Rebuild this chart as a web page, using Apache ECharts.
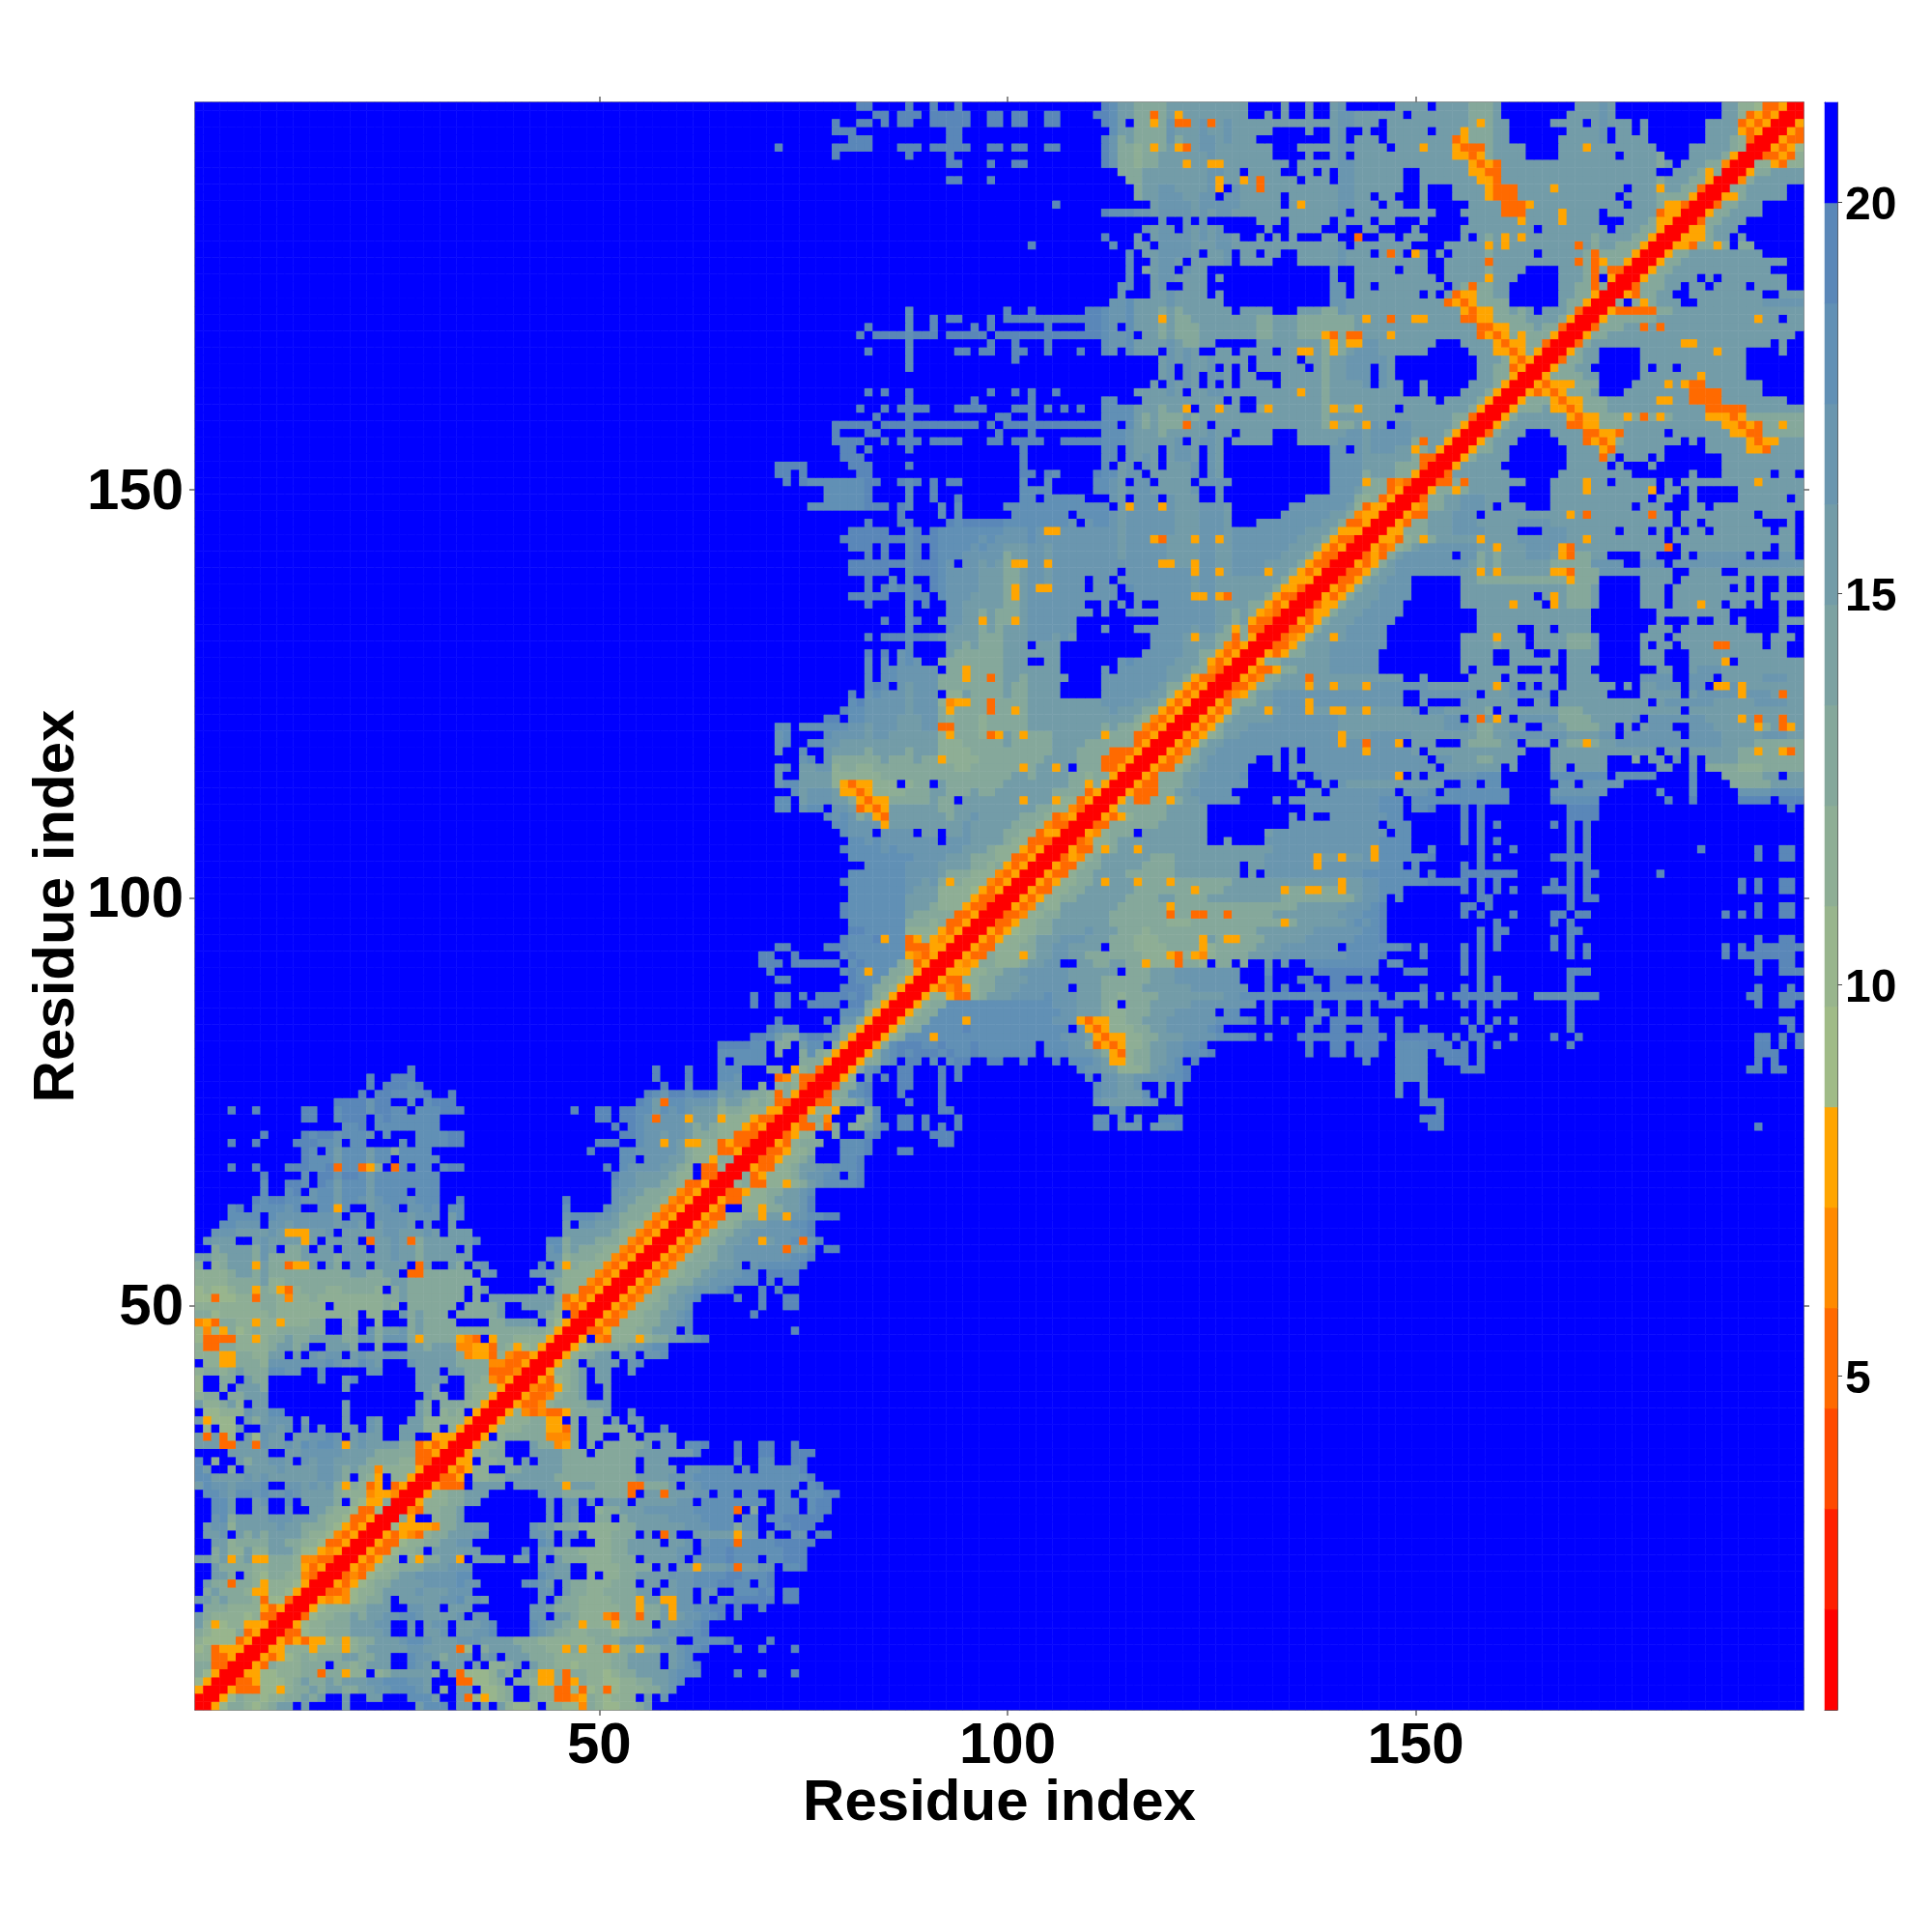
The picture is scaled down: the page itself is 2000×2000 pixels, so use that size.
<!DOCTYPE html>
<html><head><meta charset="utf-8">
<style>html,body{margin:0;padding:0;background:#fff}#c{width:2000px;height:2000px}</style>
<script src="https://cdn.jsdelivr.net/npm/echarts@6/dist/echarts.min.js"></script>
</head><body><div id="c"></div>
<script>
// Half matrix (row i = 1..197, cells j >= i, mirrored across the diagonal).
// Chars: 0-5 warm levels, 6-9,a-d sage-to-steel levels, '.' top (blue) level. First chunk ends at the next multiple of ten,
// each later chunk holds ten columns; '-' is ten blue cells; anything omitted is blue.
const halfRows = [
"0057998789 aa.a....a. .......acc c.aa.a.a87 78.8877498 77889a",
"005798878 899a9a..a. .aa...ccca ..a375789. .988334598 7888.a.b",
"00533377 5899a9aa99 aabbcccba. 8.aa.7789. .988337378 3788899ab",
"0033577 789a99a9aa abbcccbba. ..337789.9 9855935988 778899aabc",
"005577 8889939958 8.89aaaaa9 .a37778a9. 9955939988 7899aaaabc cc....d..d ...d",
"00539 888999.998 9aaa..cba. aaa.a.889a .a99887888 899aaaa.ab cd",
"0053 57898999aa 99aa..cbba 9aaa.ab.aa a999888888 899aaaa.ab c",
"005 5888588858 9aaaaabbaa aa37.9aaaa 9998859588 3599599aab ccd...d..d ...d",
"00 5353557858 99aaabccba aabbbaaaa9 9988888889 99aaabbba. .ccccd.... d",
"0 033788999a aaab..b.aa b.aabbc... .cba998899 988999aabb ccd",
"005788999a aabb..b.ab b.aaabc... .cbaa99588 858999.aab bcd",
"00378899a 9aabbccbaa aab.bb.... .bb.aa9888 4399399a5a bbccd.d",
"00578889 9aaa..bbaa .aaa...... .bba999888 8899599a5b bccdd.d..d",
"0054547 899a.aaaaa bbcaba.... ..b.a99888 89995aa55b b.b.ccdddd d.dd",
"003347 889aaaabaa abbb...... ..bb.a9988 9999aa.aab b.bb..cccd c.dd",
"00535 7899aaaabb bbcbb..... ccba.a9988 8999.aa.ab bcccddcc.c d",
"0034 37889aabbb bbcc...... ..cbaa..8. 8899aaaabb bccccddccc d",
"005 34788999aa abbb...... ..bbaa..88 889999.a.a a5aaab3aab b.ccd",
"00 53578.8599 aa5.aaaa.a a.a.a99988 8999.aaaab .ccccdccc. ccddd",
"0 05337889.a aaaaa..... c.aa999888 899aaaaaab b.cccdcccc ccddd",
"0053378899 aabb...... ..cb.b...8 899aaaa.aa b.bccc3ccc cddddd",
"005354389 9aaabb.... .bba.bb.88 8999.a.3a. .aaaaa5aa. b..bb.dd",
"00755554 99aaaa.... .baa999888 8899aaaaaa bbbccc9cc. .ccddd",
"0095..8 99a....... ...b.ba..9 9.9aaaaabb bbcccc.cc. ccddddd",
"004388 99a....... ...b.ba..8 99aaabbbbb bccccc3.9. .ccc.cdd",
"00588 899aa..... ...b.bb.b. aaa.aaaaab b.cccccccc .ccc.cdd",
"0058 899aaa.... ..baa99999 9993.aa3aa abb.cc.cc. .cc.cccdd",
"005 333.aaaa.a aaaaa5aaa9 99933999a. bbcccccccc cccc.cd",
"00 335.8899aa aaaa999999 9999aaaabb bccccccccc cccccd",
"0 053588..99 aaaaa99999 9999.aaaa. bbcccc.c.c ccccd",
"0055.8899. a.aaa99999 9999.aaa.. ......c..c c..dd",
"0058899.. .aaaa999.9 9999aaaaaa ac....d..d d..ddd",
"005889.. .a99459.9. 99999a.aa. ccd...d..d d..d",
"005.899 9994449.99 ..99.aaaa",
"005888 9995539.99 999.a..c",
"00588 89955.9.99 .a.ab",
"0058 4343359999 a..b",
"005 33489999aa a",
"00 5334899a.. a",
"0 0433589a.. a",
"0053789a.a a",
"005889a.a a..b",
"00589.aa aa.bc",
"005899a a.aa.bbc",
"005788 999aabcc",
"005.4 38885899aa bcd",
"0033 588899aaa. c......... ...d",
"005 3388899aab c",
"00 5348899aab c.......d",
"0 05348899aa b........d ..dd",
"00534889aa bc....d..d ..dd",
"00534899a abbbcd...d .d",
"00534889 9aabbbccc. d.dd",
"0053488 99aabbbcc. dddd",
"005348 999aaab.bc ccccd",
"00534 8999aabbbb bbbccd",
"0053 4899aabbbb bb3aac.dd",
"005 34899aabb5 abbc3bd",
"00 534899aabb bbbbcd",
"0 0534889aaa bbbccd",
"0053388995 aa5bbccdd",
"0053..885 99aabd",
"00533888 9aaabd",
"0033588 99aabc",
"008933 88589abccc cd",
"00935 8889abbcc. cd",
"0053 3889aabbcc cd",
"003 35889a...c cd",
"00 335889...c ccd...dd",
"0 0538999..c ccd....... .dd",
"003588..9. ..cd...... ddd",
"00533839. 99acd.dd.d .d.d...... - cc.bbb.bbb c......... - - .dd....... - - - .d",
"003994.. .99c..dd.d ...d...... - cc.c.c..cc c......... - - ddd",
"005885. ..9c...... .dd....... - ..cc...... - - - ..d",
"003389 9ac....d.. .d........ - baaaaabc.. c......... - - ddd",
"00399 ccd...d... .d........ - cbbaaac.c. c......... - .......c.. c",
"0039 9cd...dd.. .d........ - cbbaab..c. c......... - .......c.. c",
"005 8.b.d.dd.. .d.d...... .........c .bbaabbbbc cd........ - .......ccc c",
"00 59bc..dd.. .d.d...... ........cb baa8889abb cd........ - .......ccc c....ddd.. - - - dd.dd",
"0 0599bc.dd. c.cdd..dd. .d...d.ccc ba55899aab c.d....... - ...d...ccc c..ddd.d.. - - - .d.d.",
"0059bcdcdd dcdccdcccc ccc.cccbbb a953899aab bcccd..... ......d..d d.ddd..ccc c.dddd.d.. - - - .ddd",
"0059cdddc cdcccdcccc ccc.cccbb9 3535889aab bccd...... ......d..d d.ddd..ccc cddd.d.d.d ........d. - - .dd.d.d",
"00589ccc 5ccccccccc ccccccbbba 53558899aa abbbbccccd .d...ddddd dddddd.ddd ddd.d.dd.. .d....d..d - - .dd.d.d",
"005899c ccccdccccc ccccccc.b5 3588899aab bbbbcd.... ......d..d d..dd..d.. d.....d.d. ........d. - - .....d",
"005899 cccc5ccccc cccccbbb53 558899aaab bbbbbccccd .d.d..dd.d ddddd..d.. .....d.d.d .d......d. - - ....dd",
"00589 9ccccccccc ccccccbbaa a988999aaa bbbbb.cc.. .d.....cc. d..d...... .......d.. ........d.",
"0058 99cccccccc cccccbbbaa a98.999aaa aabbbbbbbb .d.....d.. d..d.ddd.. d....d.d.d ........d. - - .d..dd",
"005 8853389aaa bbbbcbbbaa a9989999aa aaaaaabbcc cccccccccc cccccd.ccc c.d.dddddd dd..cccccc cc........ - dd..ddd",
"00 53435899aa abbbbbb.aa a99999aaaa aabbbbbbb. .d.d..dd.d ddddd..... d....d.d.d ........d. - - .d...d",
"0 05338899aa aabbbbbaaa a999999aaa bbbbbbbb.. .d...dd..d d..d...... .......d.d ........d",
"005558899a abbbbbbaaa aaa.999aaa bbbbbbbb.. .c.....ddd ddddd...dd d....d.d.. ........dd d......... - .d..ddd",
"005459988 89aabb..aa 99aa995888 3998.99.9. .b.b..cccc ccccc.cc.. .....d.d.. - - - .d..dd",
"00533988 859aabbaa9 9999998885 385489999a aabbbbbbbb bccccd.... d....d.d.. ........d. d......... .......d.d dddddd",
"0053388 899aabbaaa a.99988889 9995899999 aaabbbbbbb .cccccccd. d....d.d.d ......d.d. d......... .......d.d .dddddd",
"005358 889aaabbba aa99988899 9995a95599 9aaaaabbbb bbcccd.... .......d.d ......d.d. - - .d..dd",
"00535 78899aaaab aaa9998999 9999999999 aaaaaaabbb bbbccd.... .......d.d d.......dd",
"0033 58899aaaaa aa99999998 8899999999 99959aaaaa abcbcd.... .........d ......d.d.",
"003 348899aaaa aa99999993 9933993999 99aaaaaaaa bbbccd.... .....d.d.. .d....dd.d d......... .......d.d .d..dd",
"00 534988aaaa aaa9999995 9999999999 99999aaaaa abbbcd.... .....dd.d. ........d. - - .d..dd",
"0 05358899aa aaaa9999aa 9999aaaaaa aaa9999999 99abbc.c.. .......dd. ........d. dd",
"005338899a aaaaa99999 995999aaaa aaa5995599 5aabbccc.. .....d.d.d .d...dddd. d......... .........d .d..dd",
"005358899 a5aaa59995 9999999aaa aaaaaaaaaa 5aabbccccc cddddd.d.d ......d.d. d......... .........d .d..dd",
"00533899 aaaa999999 aaaaaaaa.a .bbbbbbbbb bbbccccccc .d...ddddd dd......d. dd.......d",
"0053389 9aaaaa9999 aaaaaaaa.a abbbbbb5bb bbbbbccc.c .....d.d.. ........d. d",
"003548 9aaaaaa999 aaaaaaaaaa abbbbbb5aa 5aab5ccccc cd.....d.d ......dddd d......... - .d..dd",
"00533 859aa5aaaa aaaaaaaaaa aabbbbbbbb bbbb5cccc. .c.....d.. .d......d. d......... ....d..... .d..dd",
"0034 889aaaaaaa aaaa..a... .bbbbbbbbb bbbbbcccc. .....d.d.d ........d. d",
"005 48999.aaaa aaaa...... .abbbbbbbb bbbbbb.cc. .....d.d.. ........d. d",
"00 33999999aa aaaa...... ....bbbbbb bbbbb.ccc. .....d.d.d ......d.d. d",
"0 053589999a aaaa...... ....b.b..b bbbbbbcc.. .....d.d.. ........dd dd",
"005999999a aaaa...... ......bbbb bbbbbccc.c cd...d.d.. ........dd dd........ - .....d",
"005933995 9aabbbbb.. ..b.bbbbbb bbbbbccc.c cccccccccc c.....cccc cc........ d..d.....d ddd.ddd",
"00533399 aabbbbb... ......bb.b bbbbbbb.bb bc.ccccccc c.....bbbb bbb......c ...c.....b bbbcccc",
"0053399 9aabbbbbb. .....b..b. baaaaaaaaa aaa..cc.cc .......bb. bbbbb..... ...c....99 999aaaa",
"005399 9aabbbbbc. ....c..cbb bbbbbbb5.b .bbbbbbccc ......cccc ccc.ccccc. ...c...999 99aa.aa",
"00533 89aabbbbb. ..b.bbbbbb bbbbbbbbbb bb.aaaaaaa .a....aa.a aaa......a a..b.99998 8899999",
"0053 489abbbbbb ..b.b.bbbb bbbbbbbbbb b.bbaaa99a aa....aaaa aaa...9.aa .b.b.aaaa9 9999999",
"005 349aabbbbb bbb.b.bbbb bbb5bbbbba .aaaaaaaaa aaa...aaaa aaaaaaaaa. aa.aaaaaa9 9599539",
"00 5359aabbbb bbbbbbbbbb 5bb3bbb5.a aa...a9999 aa.aaa.a99 59aabbbbbb bbbbbbbaaa a999999",
"0 053589aabb bbbbbbbbbb 5aaabbbbba aaaaaaa99a abbbbbbbaa aabb.bbbbb bb.bbbbaaa aabbbaa",
"005359aaab bbbbbbbbbb aaaaaaaaaa aaabbba99a aaa..aaa99 99aa.a.abb b..bbbaaaa a59a35a",
"005359aaa aabbbbbbbb aaaaaaaaaa aaabb.a3a5 a.bbbbb999 9aaaaab.bb bbbbbaaaa5 a3aa3aa",
"005359aa a5abbb5aa5 5aa5aaaaab .bbaaaaa9. aaaaaaa999 aaaaaaaaaa aa.aaaaaaa aaaaaaa",
"0053999 aabbbb5bbb bbbbbbbb.. b....baaaa aa..aa.aaa aaaaaaaa.a bbbbbbaaaa abbbbaa",
"003459 aabbbbbbbb bbbbbbbb.. bbbbbbb.aa abbbbb.aaa aaa....aaa aa.abbbbb5 bbba3aa",
"00335 99aaaa5aa5 aaa5bbbbbb baaaaaaaa5 ab.b.aa.aa aaaa.a.aab bb.bb.55b5 aaaaaaa",
"0053 499aaa3aaa aaaaaaaa.. b.....aaaa .aaaaaa.aa aa.....bbb b..bbb.aaa aabbbaa",
"005 33599aaaab bbbbb..... .....a.aaa aa...a..aa a........a a..abbbaaa aaaaaaa",
"00 599aaaaaab bbbbb..... .....aaaa. .aaaaaa.aa aa.....aaa ...aaaa5.a aaaaaaa",
"0 053599aaab bbbbb..... .....aaaa. .aaa..a.aa aa.....aaa ...aaaaaaa aaaaa..",
"003359aaab bbbbbb.... .....aaaa9 aaa.aaaa99 9a.....a.a a.aaaa33aa aa.aa..",
"003459aa5 abbbbb.... .....aaaa5 aaa.aaaa99 9a.....aaa .aaaaaaaaa aa.aaa.",
"003359aa abbbbb.... .......aaa aa..aa.aaa a.......aa a.aaaaaaaa ....a..",
"005359a aabbbbb... .......aaa aaaaaaaaaa a........a ...a..aa.a ....aaa",
"003559 aaabbbbb.. .......aaa aaaaaaaaaa a........a aaaaaaaa.. ....a..",
"00355 9aaabbbb.. .....aaaaa a5aaa.5a99 9a.....aaa .aaa5aa.aa .a..a..",
"0053 59aaabbbb. .....aaaaa aaaa.a5a99 9a.....aaa .aaaaaaaaa aa.aaaa",
"005 359aabbbb. .....aaaaa aaaaaaaa99 9a.....aaa .aaaaaaa.a .a..a..",
"00 3359aabbb. .....aa999 9999999959 99.....aaa a.aaaaaaaa .a..a..",
"0 03359aabbb bbbbbaa5a5 aaaaaa5539 99bbbbbaaa a..aaaa..a aaaaaaa",
"005359abbb bbbbbba9a9 aaaaaa9999 9bbbb..bbb .bbbbbbbbb bbbbbbb",
"003539abb bbbb.bb9a9 aaabbba539 9aa....aa. ..a.bbbbbb .b..bb.",
"0053489a bbbbbbbaa5 aaabbbb53a aaaaaaaaaa 3.aaaaaaaa aaa.aa.",
"0055389 59aaaaa5aa aabbbbbbaa 5aaaaaaaaa .aaaaaaaaa aaaaaa.",
"005599 9aaabbbbaa aa...bbbaa aaaa.aaa.a .a.aa.aaaa aaa.aa.",
"00539 9aaabbbaaa aabbbbaaaa aaaaaaaaaa a.aa.aaaaa aa...a.",
"0053 3aaabbb.aa aaaaaaaa5a 3aaaaaaa3a a.aaaaaaaa a.aaaa.",
"005 499aabbba. aaa...aaaa aaaaaa.aaa ...aa.aaaa aaaaaaa",
"00 399aabbbaa a.....aaaa aaaaaaaa.a a..a.....a aaaaa.a",
"0 059959aaaa a.....aaaa 5aaaaaaa5. aa.a.....a aaaaaaa",
"003393aaaa aaa...aaaa 5aa.aaaaa. a.aaaaaaaa a5aaaaa",
"003aaaaaa a......aaa aaaaaa.... ...a...aaa aaa.aa.",
"005aaaaa ........aa aaa.a...a. .......aaa aaaaaaa",
"0059aaa a.......aa aa3a.aaa.a .......aaa aaaaaaa",
"00599a a.......aa aa53aaaaaa .....aaaaa 553aaaa",
"0059a aa.....aaa 35359aaaaa aa.a.aaaaa 5355aaa",
"0039 aaa...aaaa 33553aaaaa .aaaaaaa55 3399999",
"005 9aaaaaaa33 55999aaaaa aaaaaaa553 5399599",
"00 59aaaaaa53 5599959395 9aaaa55535 9999999",
"0 05999a5535 999aaaaaaa aaaaa33333 aaaaaaa",
"0059995355 999aaaaaa5 5aa3333aaa aaaaa..",
"005353599 9a...aaaaa aaa3333aaa aa.....",
"00535559 99....aaaa 5a533aaaaa aa.....",
"0059999 aa.....aaa aaaa5aaaaa .......",
"00599a a......a.a a.aaaaaaaa .......",
"00399 aa.....aaa aaaaaaaaaa .......",
"0059 aa.....aaa aaaaaa5aaa ....a..",
"003 9aaaaaaaaa aa55aaaaaa aaa.a..",
"00 599aaaaaaa aaaaaaaaaa aaaaaa.",
"0 03999aa3a3 aaaaaaaaaa aaaaaaa",
"005999999a aaaaaaaaaa a5aa.aa",
"005333339 9aaaaaaaaa aaaaaaa",
"009.959a aa..aaaaaa aabbbbb",
"005399a a..aaaaaaa aa..aaa",
"003999 aa.aa.aaaa .aaaa..",
"00599 aaaa.a.aaa aaaaa..",
"0059 9aaaaaaaaa aaa....",
"005 99aaaaaaaa aaaaa..",
"00 599aaaaaaa aa.....",
"0 05539959.9 9......",
"005559aa.a .......",
"00559aaa. .......",
"00399aaa .......",
"00599aa aa.....",
"00399a aa.....",
"00559 aaaaa..",
"0099 aaaaa..",
"004 9aaaaaa",
"00 599aaaa",
"0 0885388",
"0033538",
"005357",
"00533",
"0053",
"005",
"00",
"0"
];

const axisCategories = Array.from({length:197},(_,k)=>String(k+1));
const levelEdges = [0.73,2.01,3.30,4.58,5.86,7.15,8.43,9.71,11.0,12.28,13.57,14.85,16.13,17.42,18.7,19.98,21.27];
const levelColors = ['#ff0000','#ff2000','#ff4a00','#ff6a00','#ff8a00','#ffa500',
  '#a0bb87','#98b58d','#8eae95','#85a89b','#7ca2a2','#739ca8','#6a96af','#6190b5','#5a87b8','#0000ff'];
const levelChars = '012345' + '6789_abcd' + '.';
const colorbarTicks = [5,10,15,20];
const axisTitle = 'Residue index';

const levelMid = k => (levelEdges[k]+levelEdges[k+1])/2;
const N = axisCategories.length;
const grid = Array.from({length:N},()=>new Array(N).fill(15));
halfRows.forEach((row,idx)=>{
  const i = idx+1;
  const chunks = row.trim().split(/\s+/);
  let start = i, end = Math.ceil(i/10)*10;
  chunks.forEach(ch=>{
    const s = ch==='-' ? '..........' : ch;
    for(let p=0;p<s.length && start+p<=end && start+p<=N;p++){
      const lv = levelChars.indexOf(s[p]);
      const j = start+p;
      const v = lv<0?15:lv;
      grid[i-1][j-1]=v; grid[j-1][i-1]=v;
    }
    start = end+1; end += 10;
  });
});
const cells=[];
for(let y=0;y<N;y++)for(let x=0;x<N;x++)cells.push([x,y,levelMid(grid[y][x])]);
const barCells = levelColors.map((c,k)=>[0,k,levelMid(k)]);

const isMajor = (idx)=> (idx+1)%50===0;
const tick = {show:true,alignWithLabel:true,interval:isMajor,length:6,lineStyle:{color:'#666',width:1.5}};
const line = {show:true,onZero:false,lineStyle:{color:'#6a6a6a',width:1.5}};
const font = "'Liberation Sans',Arial,sans-serif";
const lab = {fontFamily:font,fontWeight:'bold',fontSize:60,color:'#000'};

const chart = echarts.init(document.getElementById('c'),null,{renderer:'canvas'});
chart.setOption({
  animation:false,
  backgroundColor:'#fff',
  grid:[{left:202,top:106,width:1665,height:1664},{left:1889,top:106,width:13,height:1664}],
  visualMap:{type:'piecewise',show:false,seriesIndex:[0,1],
    pieces:levelColors.map((c,k)=>({gte:levelEdges[k],lt:levelEdges[k+1],color:c}))},
  xAxis:[
    {type:'category',gridIndex:0,position:'bottom',data:axisCategories,axisLine:line,axisTick:tick,splitLine:{show:false},
     axisLabel:{...lab,interval:isMajor,margin:8},name:axisTitle,nameLocation:'middle',nameGap:67,nameMoveOverlap:false,
     nameTextStyle:{fontFamily:font,fontWeight:'bold',fontSize:60,color:'#000'}},
    {type:'category',gridIndex:0,position:'top',data:axisCategories,axisLine:line,axisTick:tick,axisLabel:{show:false},splitLine:{show:false}},
    {type:'category',gridIndex:1,position:'bottom',data:['c'],axisLine:{show:true,lineStyle:{color:'#555',width:1}},axisTick:{show:false},axisLabel:{show:false}},
    {type:'category',gridIndex:1,position:'top',data:['c'],axisLine:{show:true,lineStyle:{color:'#555',width:1}},axisTick:{show:false},axisLabel:{show:false}}
  ],
  yAxis:[
    {type:'category',gridIndex:0,position:'left',data:axisCategories,axisLine:line,axisTick:tick,splitLine:{show:false},
     axisLabel:{interval:isMajor,margin:12,formatter:'{t|{value}}',rich:{t:{...lab,padding:[6,0,0,0]}}},
     name:axisTitle,nameLocation:'middle',nameGap:113,nameRotate:90,nameMoveOverlap:false,
     nameTextStyle:{fontFamily:font,fontWeight:'bold',fontSize:60,color:'#000'}},
    {type:'category',gridIndex:0,position:'right',data:axisCategories,axisLine:line,axisTick:tick,axisLabel:{show:false},splitLine:{show:false}},
    {type:'category',gridIndex:1,position:'left',data:levelColors.map((c,k)=>String(k)),axisLine:{show:true,lineStyle:{color:'#555',width:1}},axisTick:{show:false},axisLabel:{show:false}},
    {type:'value',gridIndex:1,position:'right',min:levelEdges[0],max:levelEdges[16],
     axisLine:{show:true,lineStyle:{color:'#555',width:1}},splitLine:{show:false},
     axisTick:{show:true,customValues:colorbarTicks,length:5,lineStyle:{color:'#444',width:1}},
     axisLabel:{show:true,customValues:colorbarTicks,margin:8,formatter:'{c|{value}}',
       rich:{c:{fontFamily:font,fontWeight:'bold',fontSize:48,color:'#000',padding:[9,0,0,0]}}}}
  ],
  series:[
    {type:'heatmap',xAxisIndex:0,yAxisIndex:0,data:cells,progressive:0,silent:true,emphasis:{disabled:true},itemStyle:{borderWidth:0}},
    {type:'heatmap',xAxisIndex:2,yAxisIndex:2,data:barCells,progressive:0,silent:true,emphasis:{disabled:true},itemStyle:{borderWidth:0}}
  ]
});
</script></body></html>
